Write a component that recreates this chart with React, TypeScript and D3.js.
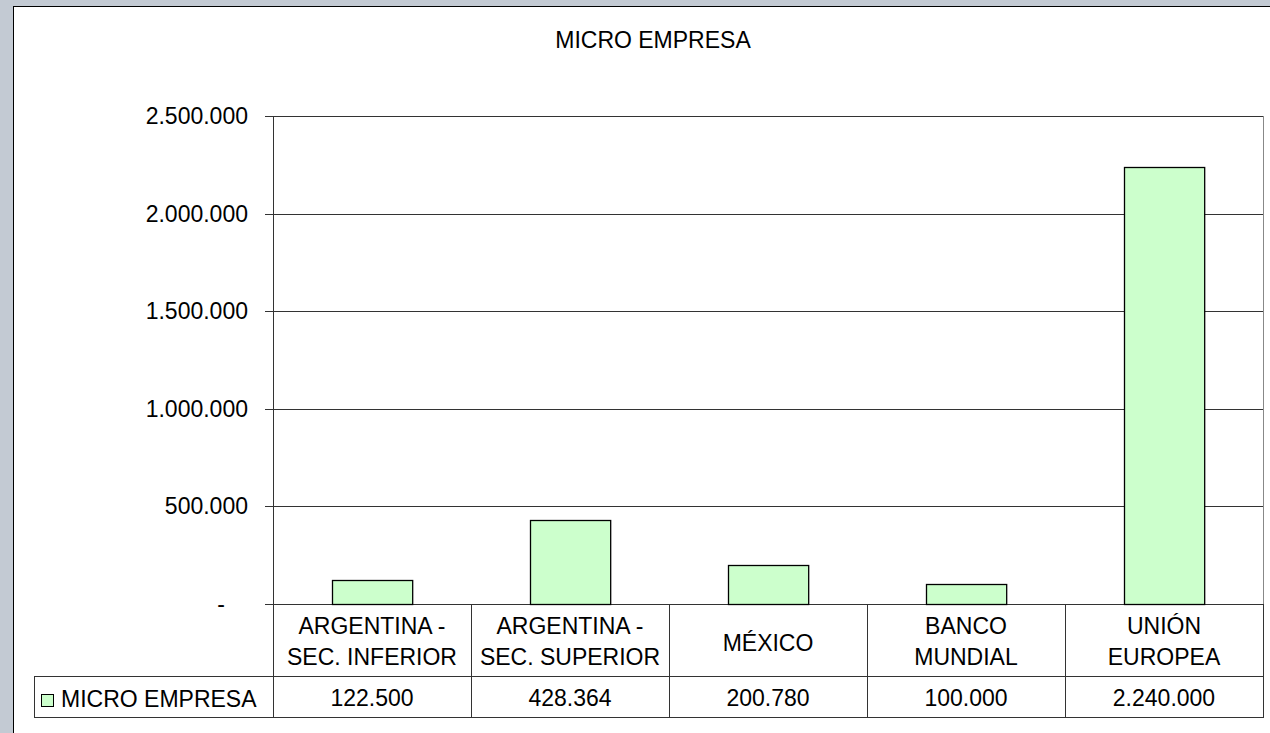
import React, { useEffect, useRef } from "react";
import * as d3 from "d3";

// DATA
const categories = [
  ["ARGENTINA -", "SEC. INFERIOR"],
  ["ARGENTINA -", "SEC. SUPERIOR"],
  ["MÉXICO"],
  ["BANCO", "MUNDIAL"],
  ["UNIÓN", "EUROPEA"],
];
const values = [122500, 428364, 200780, 100000, 2240000];
const valueLabels = ["122.500", "428.364", "200.780", "100.000", "2.240.000"];
const yTicks = [0, 500000, 1000000, 1500000, 2000000, 2500000];
const seriesName = "MICRO EMPRESA";

const fmt = (v: number) =>
  v === 0 ? "-" : d3.format(",")(v).replace(/,/g, ".");

export default function App() {
  const ref = useRef<SVGSVGElement>(null);

  useEffect(() => {
    const svg = d3.select(ref.current);
    svg.selectAll("*").remove();

    const W = 1270;
    const H = 733;
    const plot = { left: 273, right: 1263, top: 116, bottom: 604 };
    const font = "'Liberation Sans', Arial, sans-serif";
    const fs = 23;

    // BACKGROUND + FRAME
    svg.append("rect").attr("width", W).attr("height", H).attr("fill", "#c3cad3");
    svg
      .append("rect")
      .attr("x", 13.5)
      .attr("y", 6.5)
      .attr("width", W)
      .attr("height", H)
      .attr("fill", "#fff")
      .attr("stroke", "#000")
      .attr("stroke-width", 1);

    // TITLE
    svg
      .append("text")
      .attr("x", 653)
      .attr("y", 48)
      .attr("text-anchor", "middle")
      .attr("font-family", font)
      .attr("font-size", fs)
      .text(seriesName);

    // SCALES
    const x = d3
      .scaleBand()
      .domain(d3.range(values.length).map(String))
      .range([plot.left, plot.right])
      .paddingInner(0)
      .paddingOuter(0);
    const y = d3.scaleLinear().domain([0, 2500000]).range([plot.bottom, plot.top]);

    // GRID
    svg
      .append("g")
      .selectAll("line")
      .data(yTicks)
      .join("line")
      .attr("x1", plot.left - 8)
      .attr("x2", plot.right)
      .attr("y1", (d) => Math.round(y(d)) + 0.5)
      .attr("y2", (d) => Math.round(y(d)) + 0.5)
      .attr("stroke", "#333");

    // Y LABELS
    svg
      .append("g")
      .selectAll("text")
      .data(yTicks)
      .join("text")
      .attr("x", (d) => (d === 0 ? 225 : 248))
      .attr("y", (d) => y(d) + 8)
      .attr("text-anchor", "end")
      .attr("font-family", font)
      .attr("font-size", fs)
      .text((d) => fmt(d));

    // PLOT BORDER
    svg
      .append("line")
      .attr("x1", plot.left + 0.5)
      .attr("x2", plot.left + 0.5)
      .attr("y1", plot.top)
      .attr("y2", plot.bottom)
      .attr("stroke", "#333");
    svg
      .append("line")
      .attr("x1", plot.right + 0.5)
      .attr("x2", plot.right + 0.5)
      .attr("y1", plot.top)
      .attr("y2", plot.bottom)
      .attr("stroke", "#888");

    // BARS
    const bw = x.bandwidth() * 0.405;
    svg
      .append("g")
      .selectAll("rect")
      .data(values)
      .join("rect")
      .attr("x", (_, i) => Math.round(x(String(i))! + (x.bandwidth() - bw) / 2) + 0.5)
      .attr("y", (d) => Math.round(y(d)) + 0.5)
      .attr("width", bw)
      .attr("height", (d) => Math.round(plot.bottom - y(d)))
      .attr("fill", "#ccffcc")
      .attr("stroke", "#000")
      .attr("stroke-width", 1.3);

    // DATA TABLE
    const rowTop = plot.bottom;
    const rowMid = 676;
    const rowBot = 717;
    const legendLeft = 34;
    const t = svg.append("g").attr("stroke", "#333").attr("fill", "none");
    [...d3.range(values.length).map((i) => x(String(i))!), plot.right].forEach((xx) => {
      t.append("line")
        .attr("x1", Math.round(xx) + 0.5)
        .attr("x2", Math.round(xx) + 0.5)
        .attr("y1", rowTop)
        .attr("y2", rowBot);
    });
    t.append("line").attr("x1", plot.left).attr("x2", plot.right).attr("y1", rowMid + 0.5).attr("y2", rowMid + 0.5);
    t.append("rect")
      .attr("x", legendLeft + 0.5)
      .attr("y", rowMid + 0.5)
      .attr("width", plot.right - legendLeft)
      .attr("height", rowBot - rowMid);

    // CATEGORY LABELS
    const cat = svg
      .append("g")
      .selectAll("text")
      .data(categories)
      .join("text")
      .attr("text-anchor", "middle")
      .attr("font-family", font)
      .attr("font-size", fs)
      .attr("x", (_, i) => x(String(i))! + x.bandwidth() / 2);
    cat.each(function (lines) {
      const el = d3.select(this);
      const y0 = lines.length === 1 ? 651 : 634;
      lines.forEach((ln, j) => {
        el.append("tspan")
          .attr("x", el.attr("x"))
          .attr("y", y0 + j * 31)
          .text(ln);
      });
    });

    // VALUE LABELS
    svg
      .append("g")
      .selectAll("text")
      .data(valueLabels)
      .join("text")
      .attr("text-anchor", "middle")
      .attr("font-family", font)
      .attr("font-size", fs)
      .attr("x", (_, i) => x(String(i))! + x.bandwidth() / 2)
      .attr("y", 706)
      .text((d) => d);

    // LEGEND KEY
    svg
      .append("rect")
      .attr("x", 41.5)
      .attr("y", 694.5)
      .attr("width", 12)
      .attr("height", 12)
      .attr("fill", "#ccffcc")
      .attr("stroke", "#000");
    svg
      .append("text")
      .attr("x", 61)
      .attr("y", 707)
      .attr("font-family", font)
      .attr("font-size", fs)
      .text(seriesName);
  }, []);

  return (
    <svg
      ref={ref}
      width={1270}
      height={733}
      style={{ position: "absolute", left: 0, top: 0 }}
    />
  );
}
